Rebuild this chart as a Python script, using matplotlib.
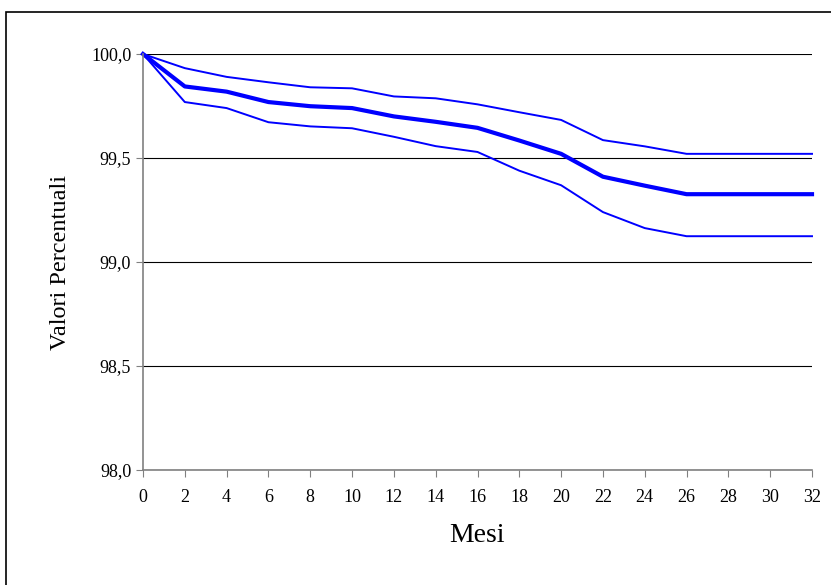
import matplotlib.pyplot as plt
from matplotlib.patches import Rectangle
from matplotlib.ticker import FuncFormatter

mesi = [0, 2, 4, 6, 8, 10, 12, 14, 16, 18, 20, 22, 24, 26, 28, 30, 32]
superiore = [100.0, 99.932, 99.89, 99.864, 99.84, 99.835, 99.796, 99.787, 99.758,
             99.72, 99.683, 99.586, 99.556, 99.52, 99.52, 99.52, 99.52]
centrale = [100.0, 99.844, 99.819, 99.769, 99.749, 99.74, 99.70, 99.674, 99.645,
            99.584, 99.52, 99.41, 99.367, 99.326, 99.326, 99.326, 99.326]
inferiore = [100.0, 99.769, 99.74, 99.672, 99.652, 99.643, 99.602, 99.557, 99.529,
             99.439, 99.369, 99.24, 99.163, 99.124, 99.124, 99.124, 99.124]

plt.rcParams['font.family'] = ['Liberation Serif', 'DejaVu Serif']

fig = plt.figure(figsize=(8.31, 5.85), dpi=100)
# cornice esterna (tagliata a destra e in basso come nell'originale)
fig.patches.append(Rectangle((6 / 831, -0.1), 1.1, 1.1 - 12 / 585, transform=fig.transFigure,
                             fill=False, edgecolor='black', linewidth=1.2))
ax = fig.add_axes([143 / 831, 1 - 470 / 585, (812 - 143) / 831, (470 - 54) / 585])

ax.plot(mesi, superiore, color='#0000ff', linewidth=1.4, clip_on=False)
ax.plot(mesi, inferiore, color='#0000ff', linewidth=1.4, clip_on=False)
ax.plot(mesi, centrale, color='#0000ff', linewidth=3.0, clip_on=False)

ax.set_xlim(0, 32)
ax.set_ylim(98.0, 100.0)
ax.set_xticks(mesi)
ax.set_yticks([98.0, 98.5, 99.0, 99.5, 100.0])
ax.yaxis.set_major_formatter(FuncFormatter(lambda v, p: f"{v:.1f}".replace('.', ',')))
ax.grid(axis='y', color='black', linewidth=0.8)
ax.set_axisbelow(True)

for s in ['top', 'right']:
    ax.spines[s].set_visible(False)
for s in ['left', 'bottom']:
    ax.spines[s].set_color('#808080')
    ax.spines[s].set_linewidth(1.2)
ax.tick_params(axis='both', colors='#808080', labelcolor='black', labelsize=13, length=5)
ax.tick_params(axis='x', pad=9)

ax.set_xlabel('Mesi', fontsize=20, labelpad=12)
ax.set_ylabel('Valori Percentuali', fontsize=17.5, labelpad=14)

fig.savefig('out.png', dpi=100)
